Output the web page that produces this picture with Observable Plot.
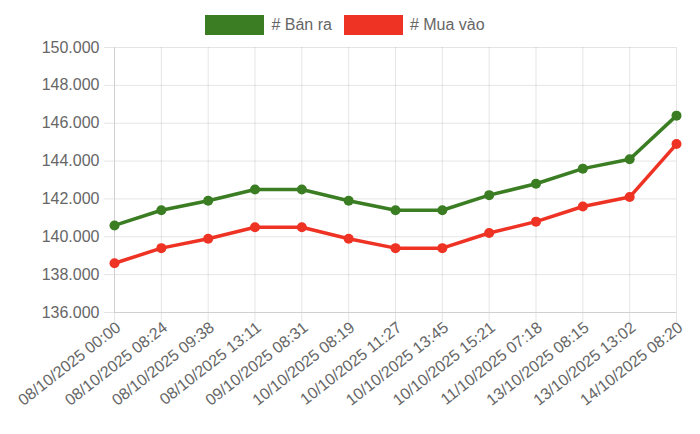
<!DOCTYPE html>
<html>
<head>
<meta charset="utf-8">
<script src="https://cdn.jsdelivr.net/npm/d3@7"></script>
<script src="https://cdn.jsdelivr.net/npm/@observablehq/plot@0.6"></script>
<style>
  body { margin: 0; background: #fff; font-family: "Liberation Sans", Arial, Helvetica, sans-serif; }
  #legend { height: 40px; display: flex; justify-content: center; align-items: flex-start; box-sizing: border-box; color: #666; font-size: 16px; padding-right: 10px; }
  .item { display: flex; align-items: center; margin: 15px 6px 0 6px; }
  .box { width: 59px; height: 20px; margin-right: 7px; box-sizing: border-box; border: 1px solid; }
</style>
</head>
<body>
<div id="legend"></div>
<div id="chart"></div>
<script>
const labels = [
  "08/10/2025 00:00", "08/10/2025 08:24", "08/10/2025 09:38", "08/10/2025 13:11",
  "09/10/2025 08:31", "10/10/2025 08:19", "10/10/2025 11:27", "10/10/2025 13:45",
  "10/10/2025 15:21", "11/10/2025 07:18", "13/10/2025 08:15", "13/10/2025 13:02",
  "14/10/2025 08:20"
];
const banRa = [140600, 141400, 141900, 142500, 142500, 141900, 141400, 141400, 142200, 142800, 143600, 144100, 146400];
const muaVao = [138600, 139400, 139900, 140500, 140500, 139900, 139400, 139400, 140200, 140800, 141600, 142100, 144900];
const seriesNames = ["# Bán ra", "# Mua vào"];
const seriesColors = ["#3a7d22", "#ee3224"];
const yTicks = [136000, 138000, 140000, 142000, 144000, 146000, 148000, 150000];

const data = [];
labels.forEach((l, i) => {
  data.push({ label: l, value: banRa[i], series: seriesNames[0] });
  data.push({ label: l, value: muaVao[i], series: seriesNames[1] });
});

const legend = document.getElementById("legend");
seriesNames.forEach((n, i) => {
  const it = document.createElement("div");
  it.className = "item";
  const b = document.createElement("div");
  b.className = "box";
  b.style.background = seriesColors[i];
  b.style.borderColor = seriesColors[i];
  const t = document.createElement("span");
  t.textContent = n;
  it.appendChild(b); it.appendChild(t);
  legend.appendChild(it);
});

const fmt = v => d3.format(",")(v).replace(/,/g, ".");

const chart = Plot.plot({
  width: 700,
  height: 394,
  marginTop: 7,
  marginBottom: 122,
  marginLeft: 114,
  marginRight: 24,
  style: { fontFamily: "'Liberation Sans', Arial, Helvetica, sans-serif", fontSize: "16px", color: "#666", background: "#fff" },
  x: { type: "point", domain: labels, padding: 0, round: false },
  y: { domain: [yTicks[0], yTicks[yTicks.length - 1]], ticks: yTicks },
  color: { domain: seriesNames, range: seriesColors },
  marks: [
    Plot.gridY(yTicks, { stroke: "#000", strokeOpacity: 0.1 }),
    Plot.gridX(labels, { stroke: "#000", strokeOpacity: 0.1 }),
    Plot.axisY(yTicks, { tickSize: 10, tickPadding: 5, stroke: "#e5e5e5", strokeOpacity: 1, fill: "#666", tickFormat: fmt, label: null, fontSize: 16 }),
    Plot.axisX(labels, { tickSize: 10, tickFormat: () => "", stroke: "#e5e5e5", strokeOpacity: 1, label: null }),
    Plot.axisX(labels, { tickSize: 0, tickPadding: 13, dx: 4, tickRotate: -38, fill: "#666", label: null, fontSize: 16 }),
    Plot.ruleY([yTicks[0]], { stroke: "#d0d0d0" }),
    Plot.ruleX([labels[0]], { stroke: "#d0d0d0" }),
    Plot.line(data, { x: "label", y: "value", z: "series", stroke: "series", strokeWidth: 3.5 }),
    Plot.dot(data, { x: "label", y: "value", fill: "series", r: 5, stroke: null })
  ]
});
document.getElementById("chart").appendChild(chart);
</script>
</body>
</html>
